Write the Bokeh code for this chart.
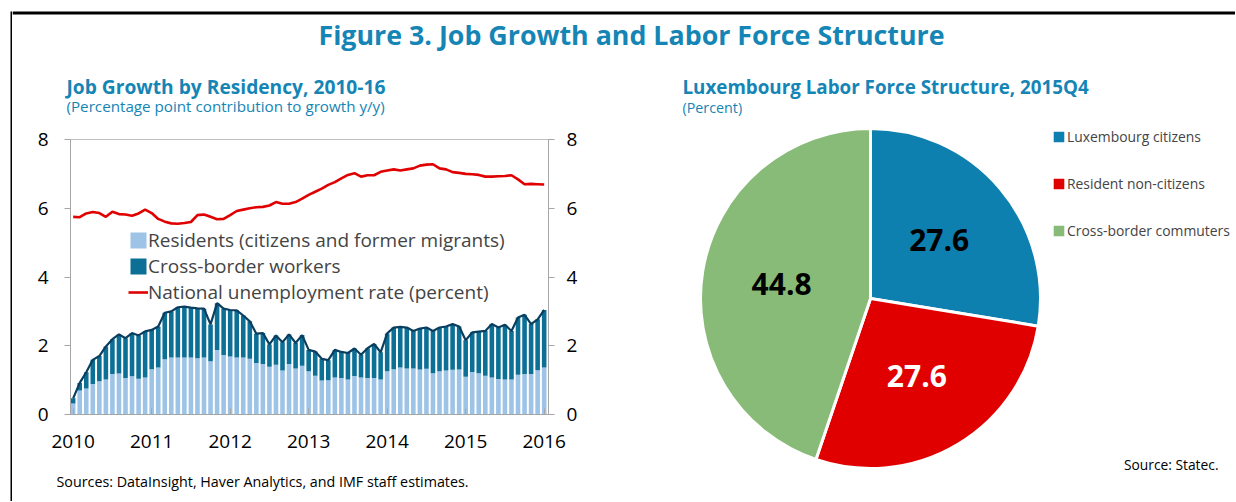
import numpy as np
import pandas as pd
from bokeh.plotting import figure
from bokeh.models import (ColumnDataSource, Range1d, LinearAxis, FixedTicker,
                          Legend, LegendItem, Label, Spacer)
from bokeh.layouts import column, row
from bokeh.embed import file_html
from bokeh.resources import INLINE
from bokeh.core.properties import value

FONT = "Open Sans"
TEAL = "#1585B5"
GRAY = "#A6A6A6"

# ---------------- data ----------------
residents = [0.32, 0.70, 0.76, 0.89, 0.97, 1.02, 1.18, 1.19, 1.06, 1.11, 1.04, 1.08,
             1.32, 1.37, 1.61, 1.66, 1.66, 1.66, 1.66, 1.64, 1.66, 1.55, 1.88, 1.73,
             1.69, 1.66, 1.66, 1.62, 1.50, 1.47, 1.39, 1.45, 1.28, 1.47, 1.34, 1.42,
             1.26, 1.13, 0.99, 1.00, 1.08, 1.06, 1.02, 1.12, 1.08, 1.06, 1.06, 1.02,
             1.26, 1.32, 1.37, 1.34, 1.34, 1.31, 1.33, 1.20, 1.26, 1.28, 1.30, 1.31,
             1.10, 1.24, 1.20, 1.13, 1.08, 1.03, 1.02, 1.02, 1.16, 1.18, 1.18, 1.29,
             1.37]
cross_border = [0.15, 0.22, 0.47, 0.70, 0.73, 0.96, 1.01, 1.14, 1.16, 1.26, 1.26, 1.34,
                1.14, 1.19, 1.35, 1.34, 1.46, 1.48, 1.45, 1.45, 1.42, 1.07, 1.36, 1.35,
                1.35, 1.37, 1.22, 1.09, 0.85, 0.90, 0.65, 0.85, 0.82, 0.86, 0.74, 0.89,
                0.62, 0.70, 0.63, 0.58, 0.80, 0.76, 0.77, 0.80, 0.66, 0.87, 0.99, 0.79,
                1.10, 1.21, 1.18, 1.19, 1.09, 1.19, 1.20, 1.23, 1.27, 1.28, 1.33, 1.25,
                1.06, 1.15, 1.21, 1.30, 1.55, 1.50, 1.59, 1.41, 1.66, 1.72, 1.45, 1.48,
                1.67]
unemployment = [5.75, 5.74, 5.85, 5.89, 5.86, 5.75, 5.90, 5.83, 5.82, 5.78, 5.85, 5.96,
                5.86, 5.69, 5.61, 5.56, 5.55, 5.57, 5.60, 5.80, 5.82, 5.75, 5.68, 5.69,
                5.80, 5.92, 5.96, 6.00, 6.03, 6.04, 6.08, 6.18, 6.13, 6.13, 6.18, 6.28,
                6.39, 6.48, 6.57, 6.68, 6.76, 6.87, 6.97, 7.02, 6.92, 6.96, 6.96, 7.06,
                7.10, 7.13, 7.10, 7.13, 7.16, 7.24, 7.27, 7.28, 7.16, 7.13, 7.05, 7.03,
                7.00, 6.99, 6.97, 6.92, 6.92, 6.93, 6.94, 6.96, 6.84, 6.70, 6.71, 6.70,
                6.69]
year_ticks = [2010, 2011, 2012, 2013, 2014, 2015, 2016]
y_ticks = [0, 2, 4, 6, 8]

pie_labels = ["Luxembourg citizens", "Resident non-citizens", "Cross-border commuters"]
pie_values = [27.6, 27.6, 44.8]
pie_colors = ["#0D80B0", "#E00000", "#88BB77"]
pie_text_colors = ["black", "white", "black"]


def text_fig(w, h):
    """A blank figure whose data units are its own pixels (y grows downwards)."""
    f = figure(width=w, height=h, x_range=Range1d(0, w), y_range=Range1d(h, 0),
               output_backend="svg", toolbar_location=None, min_border=0)
    f.axis.visible = False
    f.grid.visible = False
    f.outline_line_color = None
    return f


def black_fig(w, h):
    f = text_fig(w, h)
    f.background_fill_color = "black"
    f.border_fill_color = "black"
    return f


INNER_W = 1223
LEFT_W = 607

# ---------------- overall title (with the frame's top rule) ----------------
t = text_fig(INNER_W, 58)
t.quad(left=[0], right=[INNER_W], top=[11], bottom=[14], fill_color="black",
       line_color=None)
t.text(x=[619], y=[34], text=["Figure 3. Job Growth and Labor Force Structure"],
       text_align="center", text_baseline="middle", text_font=value(FONT),
       text_font_style="bold", text_font_size="26.8px", text_color=TEAL)

# ---------------- left chart ----------------
left_head = text_fig(LEFT_W, 69)
left_head.text(x=[54, 54], y=[28, 47],
               text=["Job Growth by Residency, 2010-16",
                     "(Percentage point contribution to growth y/y)"],
               text_align="left", text_baseline="middle", text_font=value(FONT),
               text_font_style=["bold", "normal"], text_font_size=["19.2px", "15.2px"],
               text_color=TEAL)

months = pd.date_range("2010-01-01", periods=len(residents), freq="MS")
xpos = np.asarray(months.year + (months.month - 1) / 12.0, dtype=float)
res = np.array(residents)
cb = np.array(cross_border)
total = res + cb
src = ColumnDataSource(dict(x=xpos, res=res, total=total, unemp=unemployment))

p = figure(width=LEFT_W, height=335, x_range=Range1d(2009.966, 2016.055),
           y_range=Range1d(0, 8), output_backend="svg", toolbar_location=None,
           min_border_left=58, min_border_right=71, min_border_top=12,
           min_border_bottom=48)
p.grid.visible = False
p.outline_line_color = "#BFBFBF"

bw = 0.7 / 12
r_res = p.vbar(x="x", top="res", bottom=0, width=bw, source=src,
               fill_color="#9DC3E6", line_color=None)
r_cb = p.vbar(x="x", top="total", bottom="res", width=bw, source=src,
              fill_color="#0B6F96", line_color=None)
p.line(x="x", y="total", source=src, line_color="#0A3E5F", line_width=2.2)
r_un = p.line(x="x", y="unemp", source=src, line_color="#E00000", line_width=2.6)

p.add_layout(LinearAxis(), "right")
for ax in p.yaxis:
    ax.ticker = FixedTicker(ticks=y_ticks)
    ax.axis_line_color = GRAY
    ax.major_tick_line_color = GRAY
    ax.major_tick_out = 6
    ax.major_tick_in = 0
    ax.minor_tick_line_color = None
    ax.major_label_text_font = FONT
    ax.major_label_text_font_size = "19px"
    ax.major_label_text_color = "black"
p.yaxis[0].major_label_standoff = 16
p.yaxis[1].major_label_standoff = 12

xa = p.xaxis[0]
xa.ticker = FixedTicker(ticks=year_ticks)
xa.axis_line_color = GRAY
xa.major_tick_line_color = GRAY
xa.major_tick_in = 6
xa.major_tick_out = 0
xa.minor_tick_line_color = None
xa.major_label_text_font = FONT
xa.major_label_text_font_size = "19px"
xa.major_label_text_color = "black"
xa.major_label_standoff = 20

leg = Legend(items=[LegendItem(label="Residents (citizens and former migrants)", renderers=[r_res]),
                    LegendItem(label="Cross-border workers", renderers=[r_cb]),
                    LegendItem(label="National unemployment rate (percent)", renderers=[r_un])],
             location=(58, 109), padding=0, margin=0, spacing=0,
             glyph_width=20, glyph_height=20, label_height=22, label_standoff=0,
             label_text_font=FONT, label_text_font_size="19px",
             background_fill_alpha=0, border_line_alpha=0)
p.add_layout(leg)

left_foot = text_fig(LEFT_W, 32)
left_foot.text(x=[44], y=[19],
               text=["Sources: DataInsight, Haver Analytics, and IMF staff estimates."],
               text_align="left", text_baseline="middle", text_font=value(FONT),
               text_font_size="14.3px", text_color="black")

# ---------------- right chart (pie) ----------------
R = 170.0          # pie radius in pixels
W, H = INNER_W - LEFT_W, 436
CX, CY = 251, 240  # pie centre inside the panel (pixels)
q = figure(width=W, height=H, x_range=Range1d(-CX / R, (W - CX) / R),
           y_range=Range1d(-(H - CY) / R, CY / R), output_backend="svg",
           toolbar_location=None, min_border=0)
q.axis.visible = False
q.grid.visible = False
q.outline_line_color = None


def px(xp, yp):
    return (xp - CX) / R, (CY - yp) / R


vals = np.array(pie_values)
frac = vals / vals.sum()
cum_end = np.cumsum(frac)
cum_start = cum_end - frac
start = np.pi / 2 - 2 * np.pi * cum_end
end = np.pi / 2 - 2 * np.pi * cum_start
mid = (start + end) / 2
psrc = ColumnDataSource(dict(start=start, end=end, color=pie_colors, label=pie_labels,
                             lx=0.53 * np.cos(mid), ly=0.53 * np.sin(mid),
                             txt=["%.1f" % v for v in pie_values], tc=pie_text_colors))
q.wedge(x=0, y=0, radius=1, start_angle="start", end_angle="end", source=psrc,
        fill_color="color", line_color="white", line_width=3, legend_field="label")
q.text(x="lx", y="ly", text="txt", text_color="tc", source=psrc, text_align="center",
       text_baseline="middle", text_font=value(FONT), text_font_style="bold",
       text_font_size="30px")

hx1, hy1 = px(63, 28)
hx2, hy2 = px(63, 49)
q.text(x=[hx1, hx2], y=[hy1, hy2],
       text=["Luxembourg Labor Force Structure, 2015Q4", "(Percent)"],
       text_align="left", text_baseline="middle", text_font=value(FONT),
       text_font_style=["bold", "normal"], text_font_size=["18.8px", "14.3px"],
       text_color=TEAL)

ql = q.legend[0]
ql.location = (431, 254)
ql.padding = 0
ql.margin = 0
ql.spacing = 27
ql.glyph_width = 17
ql.glyph_height = 17
ql.label_height = 20
ql.label_standoff = 0
ql.label_text_font = FONT
ql.label_text_font_size = "13.9px"
ql.background_fill_alpha = 0
ql.border_line_alpha = 0

q.add_layout(Label(x=599, y=30, x_units="screen", y_units="screen",
                   text="Source: Statec.", text_font=FONT, text_font_size="13.8px",
                   text_align="right", text_baseline="middle", text_color="black"))

# ---------------- assemble ----------------
left_col = column(row(left_head), p, row(left_foot))
right_col = column(q)
inner = column(t, row(left_col, right_col))
layout = row(Spacer(width=10, height=501),
             column(Spacer(width=2, height=11), black_fig(2, 490)),
             inner)
open("out.html", "w").write(file_html(layout, INLINE))
